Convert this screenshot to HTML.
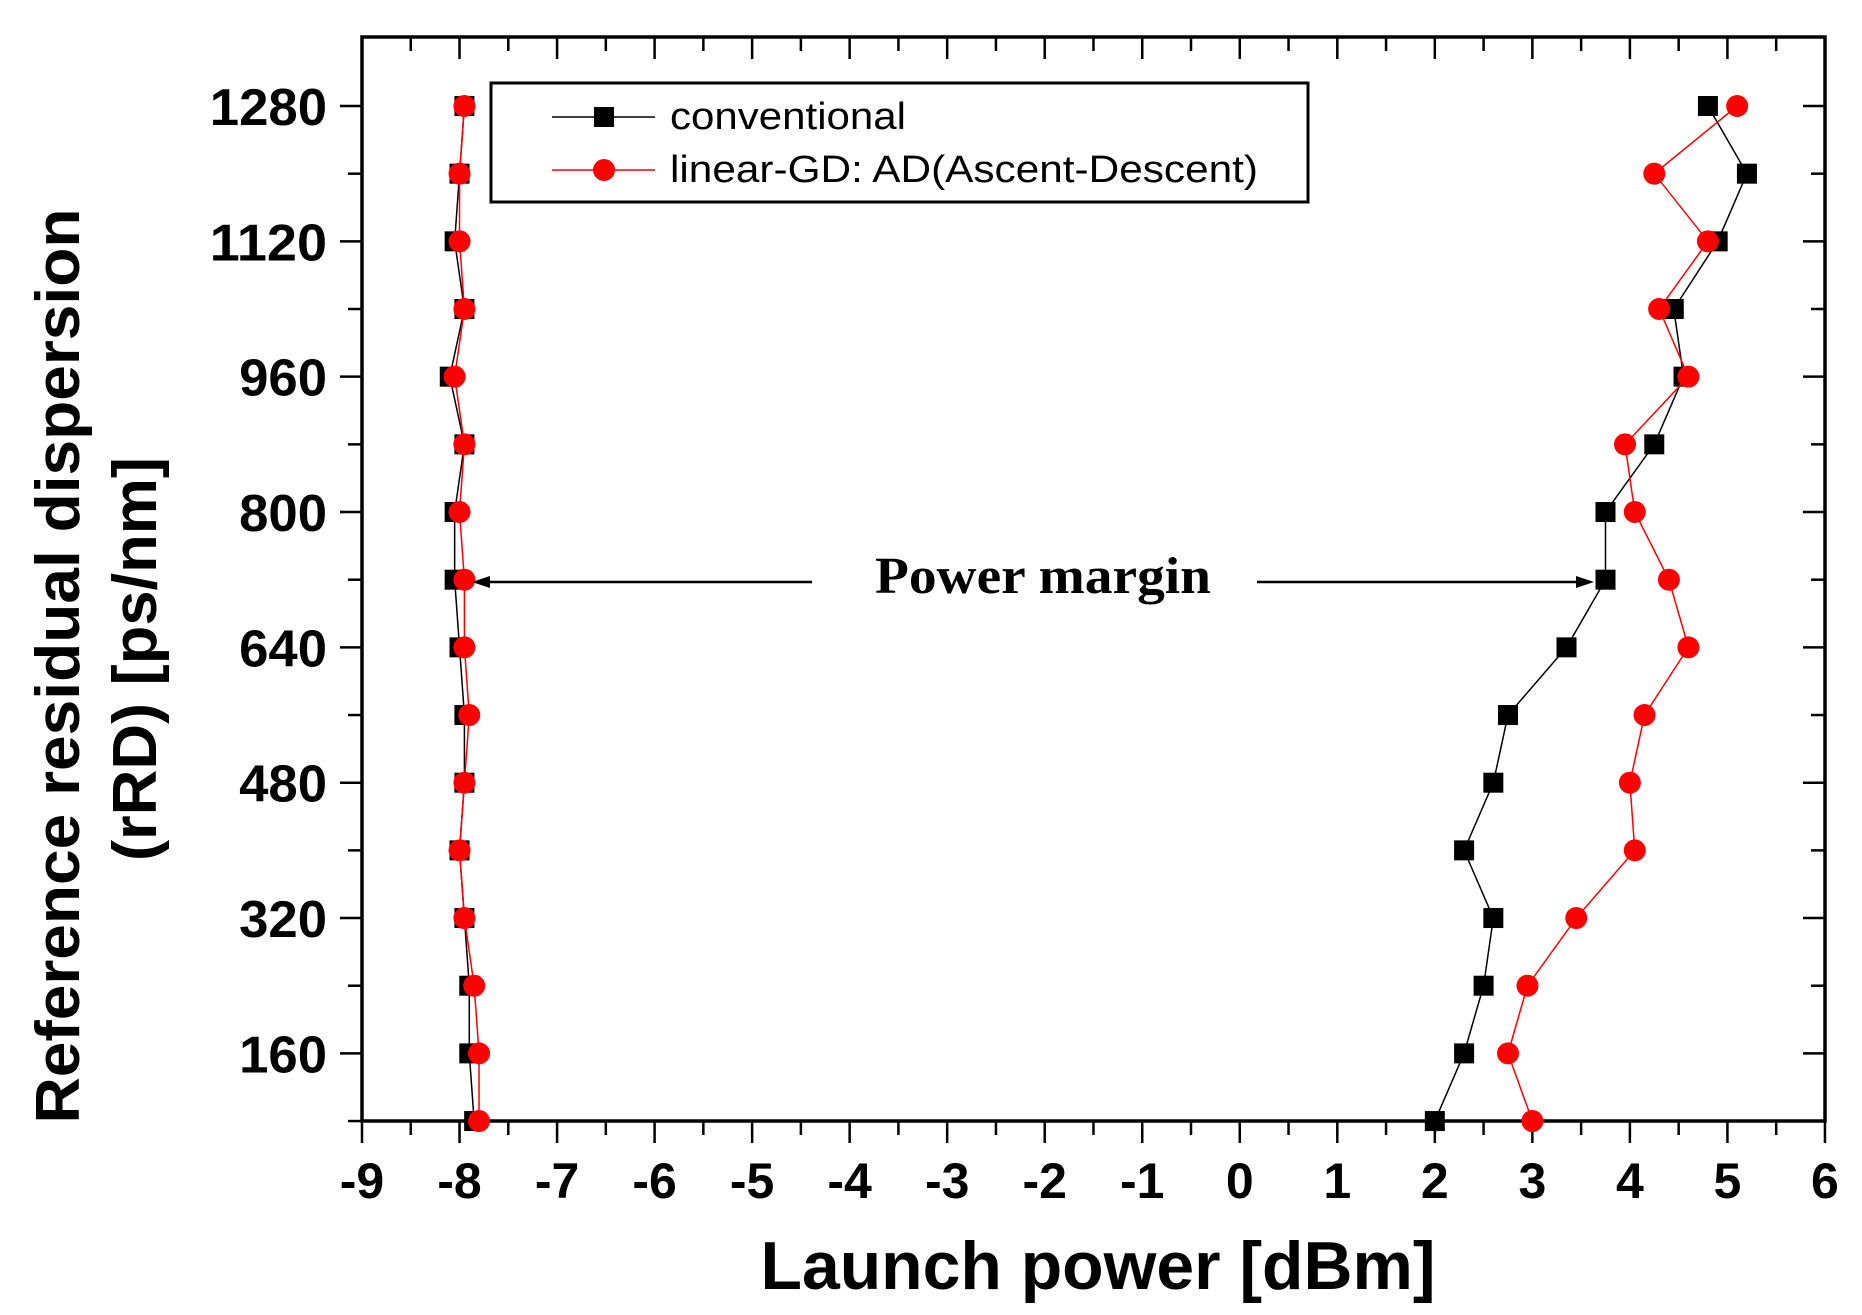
<!DOCTYPE html>
<html><head><meta charset="utf-8"><style>
html,body{margin:0;padding:0;background:#fff;}
svg{display:block;}
</style></head><body>
<svg id="s" width="1862" height="1315" xmlns="http://www.w3.org/2000/svg">
<rect width="1862" height="1315" fill="#fff"/>
</svg>
<script>
const s=document.getElementById('s');const NS='http://www.w3.org/2000/svg';
function el(t,a,txt){const e=document.createElementNS(NS,t);for(const k in a)e.setAttribute(k,a[k]);if(txt!==undefined)e.textContent=txt;s.appendChild(e);return e;}
const X=v=>362+(v+9)*97.53, Y=r=>106+(1280-r)/80*67.67;
const L=362,R=1825,T=37,B=1121;
for(let v=-9;v<=6;v+=0.5){const x=X(v),big=Number.isInteger(v);
 el('line',{x1:x,y1:B,x2:x,y2:B+(big?22:14),stroke:'#000','stroke-width':2.5});
 el('line',{x1:x,y1:T,x2:x,y2:T+(big?22:14),stroke:'#000','stroke-width':2.5});
 if(big) el('text',{x:x,y:1198,'text-anchor':'middle','font-family':'Liberation Sans, sans-serif','font-weight':'bold','font-size':50},String(v));
}
for(let r=80;r<=1280;r+=80){const y=Y(r),big=(r%160==0);
 el('line',{x1:L,y1:y,x2:L-(big?22:14),y2:y,stroke:'#000','stroke-width':2.5});
 el('line',{x1:R,y1:y,x2:R-(big?22:14),y2:y,stroke:'#000','stroke-width':2.5});
 if(big) el('text',{x:327,y:y+19,'text-anchor':'end','font-family':'Liberation Sans, sans-serif','font-weight':'bold','font-size':52,textLength:String(r).length*29.3,lengthAdjust:'spacingAndGlyphs'},String(r));
}
el('rect',{x:L,y:T,width:R-L,height:B-T,fill:'none',stroke:'#000','stroke-width':3.5});
const rows=[];for(let r=1280;r>=80;r-=80)rows.push(r);
const bR=[4.8,5.2,4.9,4.45,4.55,4.25,3.75,3.75,3.35,2.75,2.6,2.3,2.6,2.5,2.3,2.0];
const rR=[5.1,4.25,4.8,4.3,4.6,3.95,4.05,4.4,4.6,4.15,4.0,4.05,3.45,2.95,2.75,3.0];
const bL=[-7.95,-8.0,-8.05,-7.95,-8.1,-7.95,-8.05,-8.05,-8.0,-7.95,-7.95,-8.0,-7.95,-7.9,-7.9,-7.85];
const rL=[-7.95,-8.0,-8.0,-7.95,-8.05,-7.95,-8.0,-7.95,-7.95,-7.9,-7.95,-8.0,-7.95,-7.85,-7.8,-7.8];
function series(vals,col,sq){const pts=vals.map((v,i)=>X(v)+','+Y(rows[i])).join(' ');
 el('polyline',{points:pts,fill:'none',stroke:col,'stroke-width':1.5});
 vals.forEach((v,i)=>{const x=X(v),y=Y(rows[i]);
  if(sq)el('rect',{x:x-10,y:y-10,width:20,height:20,fill:'#000'});
  else el('circle',{cx:x,cy:y,r:11,fill:'#f00'});});}
series(bL,'#000',1);series(bR,'#000',1);series(rL,'#f00',0);series(rR,'#f00',0);
el('rect',{x:491,y:83,width:817,height:119,fill:'#fff',stroke:'#000','stroke-width':3});
el('line',{x1:552,y1:117,x2:655,y2:117,stroke:'#000','stroke-width':1.5});
el('rect',{x:594,y:107,width:20,height:20,fill:'#000'});
el('line',{x1:552,y1:170,x2:655,y2:170,stroke:'#f00','stroke-width':1.5});
el('circle',{cx:604,cy:170,r:11,fill:'#f00'});
el('text',{x:670,y:129,'font-family':'Liberation Sans, sans-serif','font-size':38,textLength:236,lengthAdjust:'spacingAndGlyphs'},'conventional');
el('text',{x:670,y:182,'font-family':'Liberation Sans, sans-serif','font-size':38,textLength:588,lengthAdjust:'spacingAndGlyphs'},'linear-GD: AD(Ascent-Descent)');
el('text',{x:875,y:593,'font-family':'Liberation Serif, serif','font-weight':'bold','font-size':52,textLength:336,lengthAdjust:'spacingAndGlyphs'},'Power margin');
el('line',{x1:812,y1:582,x2:480,y2:582,stroke:'#000','stroke-width':2.5});
el('polygon',{points:'472,582 490,576 490,588',fill:'#000'});
el('line',{x1:1257,y1:582,x2:1585,y2:582,stroke:'#000','stroke-width':2.5});
el('polygon',{points:'1594,582 1576,576 1576,588',fill:'#000'});
el('text',{x:1098,y:1289,'text-anchor':'middle','font-family':'Liberation Sans, sans-serif','font-weight':'bold','font-size':68,textLength:675,lengthAdjust:'spacingAndGlyphs'},'Launch power [dBm]');
el('text',{x:0,y:0,transform:'translate(79,666) rotate(-90)','text-anchor':'middle','font-family':'Liberation Sans, sans-serif','font-weight':'bold','font-size':62,textLength:915,lengthAdjust:'spacingAndGlyphs'},'Reference residual dispersion');
el('text',{x:0,y:0,transform:'translate(156,659) rotate(-90)','text-anchor':'middle','font-family':'Liberation Sans, sans-serif','font-weight':'bold','font-size':62,textLength:404,lengthAdjust:'spacingAndGlyphs'},'(rRD) [ps/nm]');
</script>
</body></html>
